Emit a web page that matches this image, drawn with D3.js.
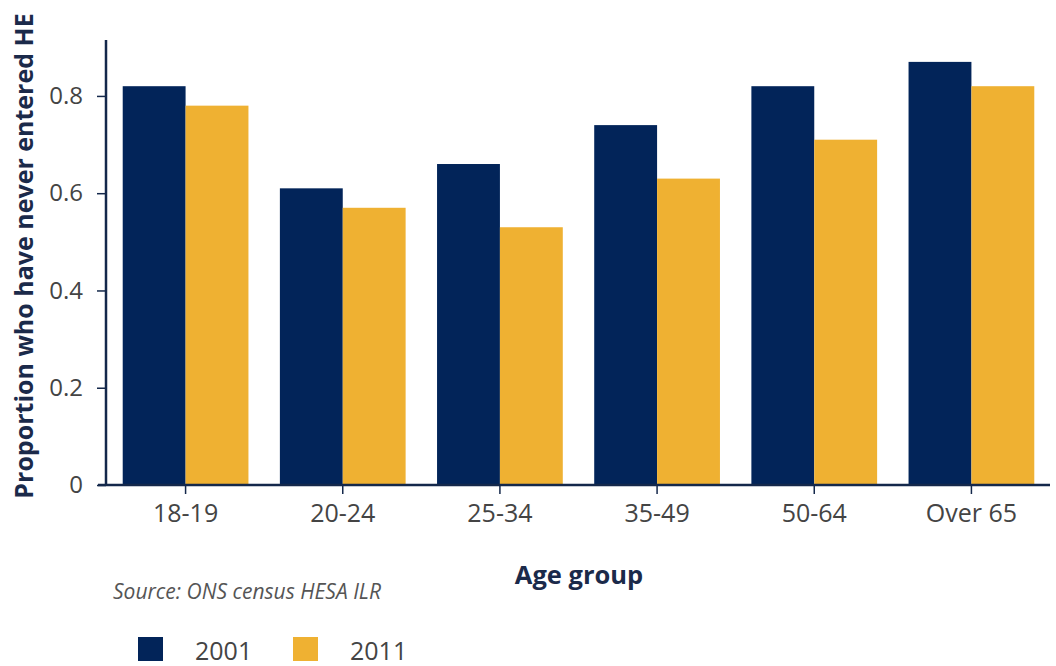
<!DOCTYPE html>
<html>
<head>
<meta charset="utf-8">
<script src="https://cdn.jsdelivr.net/npm/d3@7"></script>
<style>
  body { margin: 0; background: #fff; }
  svg, svg text { font-family: "Open Sans", sans-serif; }
</style>
</head>
<body>
<div id="svg-container"></div>
<script>
// data
const ageGroups = ["18-19", "20-24", "25-34", "35-49", "50-64", "Over 65"];
const years = ["2001", "2011"];
const values2001 = [0.82, 0.61, 0.66, 0.74, 0.82, 0.87];
const values2011 = [0.78, 0.57, 0.53, 0.63, 0.71, 0.82];
const yTicks = [0, 0.2, 0.4, 0.6, 0.8];

const colors = ["#022459", "#efb132"];
const axisColor = "#14284b";

const width = 1056, height = 666;
const svg = d3.select("#svg-container").append("svg")
  .attr("width", width).attr("height", height);

// scales
const x0 = d3.scaleBand().domain(ageGroups).range([107, 1050])
  .paddingInner(0.2).paddingOuter(0.1);
const x1 = d3.scaleBand().domain(years).range([0, x0.bandwidth()]);
const y = d3.scaleLinear().domain([0, 0.915]).range([485, 40]);

const rows = ageGroups.map((g, i) => ({ group: g, vals: [values2001[i], values2011[i]] }));

// bars
svg.append("g").selectAll("g")
  .data(rows).join("g")
  .attr("transform", d => `translate(${x0(d.group)},0)`)
  .selectAll("rect")
  .data(d => d.vals.map((v, j) => ({ year: years[j], v, j })))
  .join("rect")
  .attr("x", d => x1(d.year))
  .attr("y", d => y(d.v))
  .attr("width", x1.bandwidth())
  .attr("height", d => y(0) - y(d.v))
  .attr("fill", d => colors[d.j]);

// axes
const yAxis = svg.append("g")
  .attr("transform", "translate(106,0)")
  .call(d3.axisLeft(y).tickValues(yTicks).tickSize(9).tickPadding(14)
    .tickFormat(d => d === 0 ? "0" : d3.format(".1f")(d)));
yAxis.attr("font-family", null);
yAxis.select(".domain").attr("stroke", axisColor).attr("stroke-width", 2.5)
  .attr("d", `M0,${y(0.915)}V${y(0)}`);
yAxis.selectAll(".tick line").attr("stroke", axisColor).attr("stroke-width", 1.5);
yAxis.selectAll(".tick text").attr("fill", "#444").style("font-size", "24px");

const xAxis = svg.append("g")
  .attr("transform", `translate(0,${y(0)})`)
  .call(d3.axisBottom(x0).tickSize(9).tickPadding(10).tickSizeOuter(0));
xAxis.attr("font-family", null);
xAxis.select(".domain").attr("stroke", axisColor).attr("stroke-width", 2.5)
  .attr("d", `M98,0H1050`);
xAxis.selectAll(".tick line").attr("stroke", axisColor).attr("stroke-width", 1.5);
xAxis.selectAll(".tick text").attr("fill", "#444").style("font-size", "25px");

// axis titles
svg.append("text")
  .attr("transform", "translate(33,256) rotate(-90)")
  .attr("text-anchor", "middle")
  .attr("fill", "#1b2a4a")
  .style("font-size", "25px").style("font-weight", "bold")
  .text("Proportion who have never entered HE");

svg.append("text")
  .attr("x", 579).attr("y", 584)
  .attr("text-anchor", "middle")
  .attr("fill", "#1b2a4a")
  .style("font-size", "25.5px").style("font-weight", "bold")
  .text("Age group");

svg.append("text")
  .attr("x", 113).attr("y", 599)
  .attr("fill", "#555")
  .style("font-size", "21px").style("font-style", "italic")
  .text("Source: ONS census HESA ILR");

// legend
const legend = svg.append("g").selectAll("g")
  .data(years).join("g")
  .attr("transform", (d, i) => `translate(${138 + i * 155},637)`);
legend.append("rect")
  .attr("width", 25).attr("height", 24)
  .attr("fill", (d, i) => colors[i]);
legend.append("text")
  .attr("x", 57).attr("y", 23)
  .attr("fill", "#444")
  .style("font-size", "25px")
  .text(d => d);
</script>
</body>
</html>
